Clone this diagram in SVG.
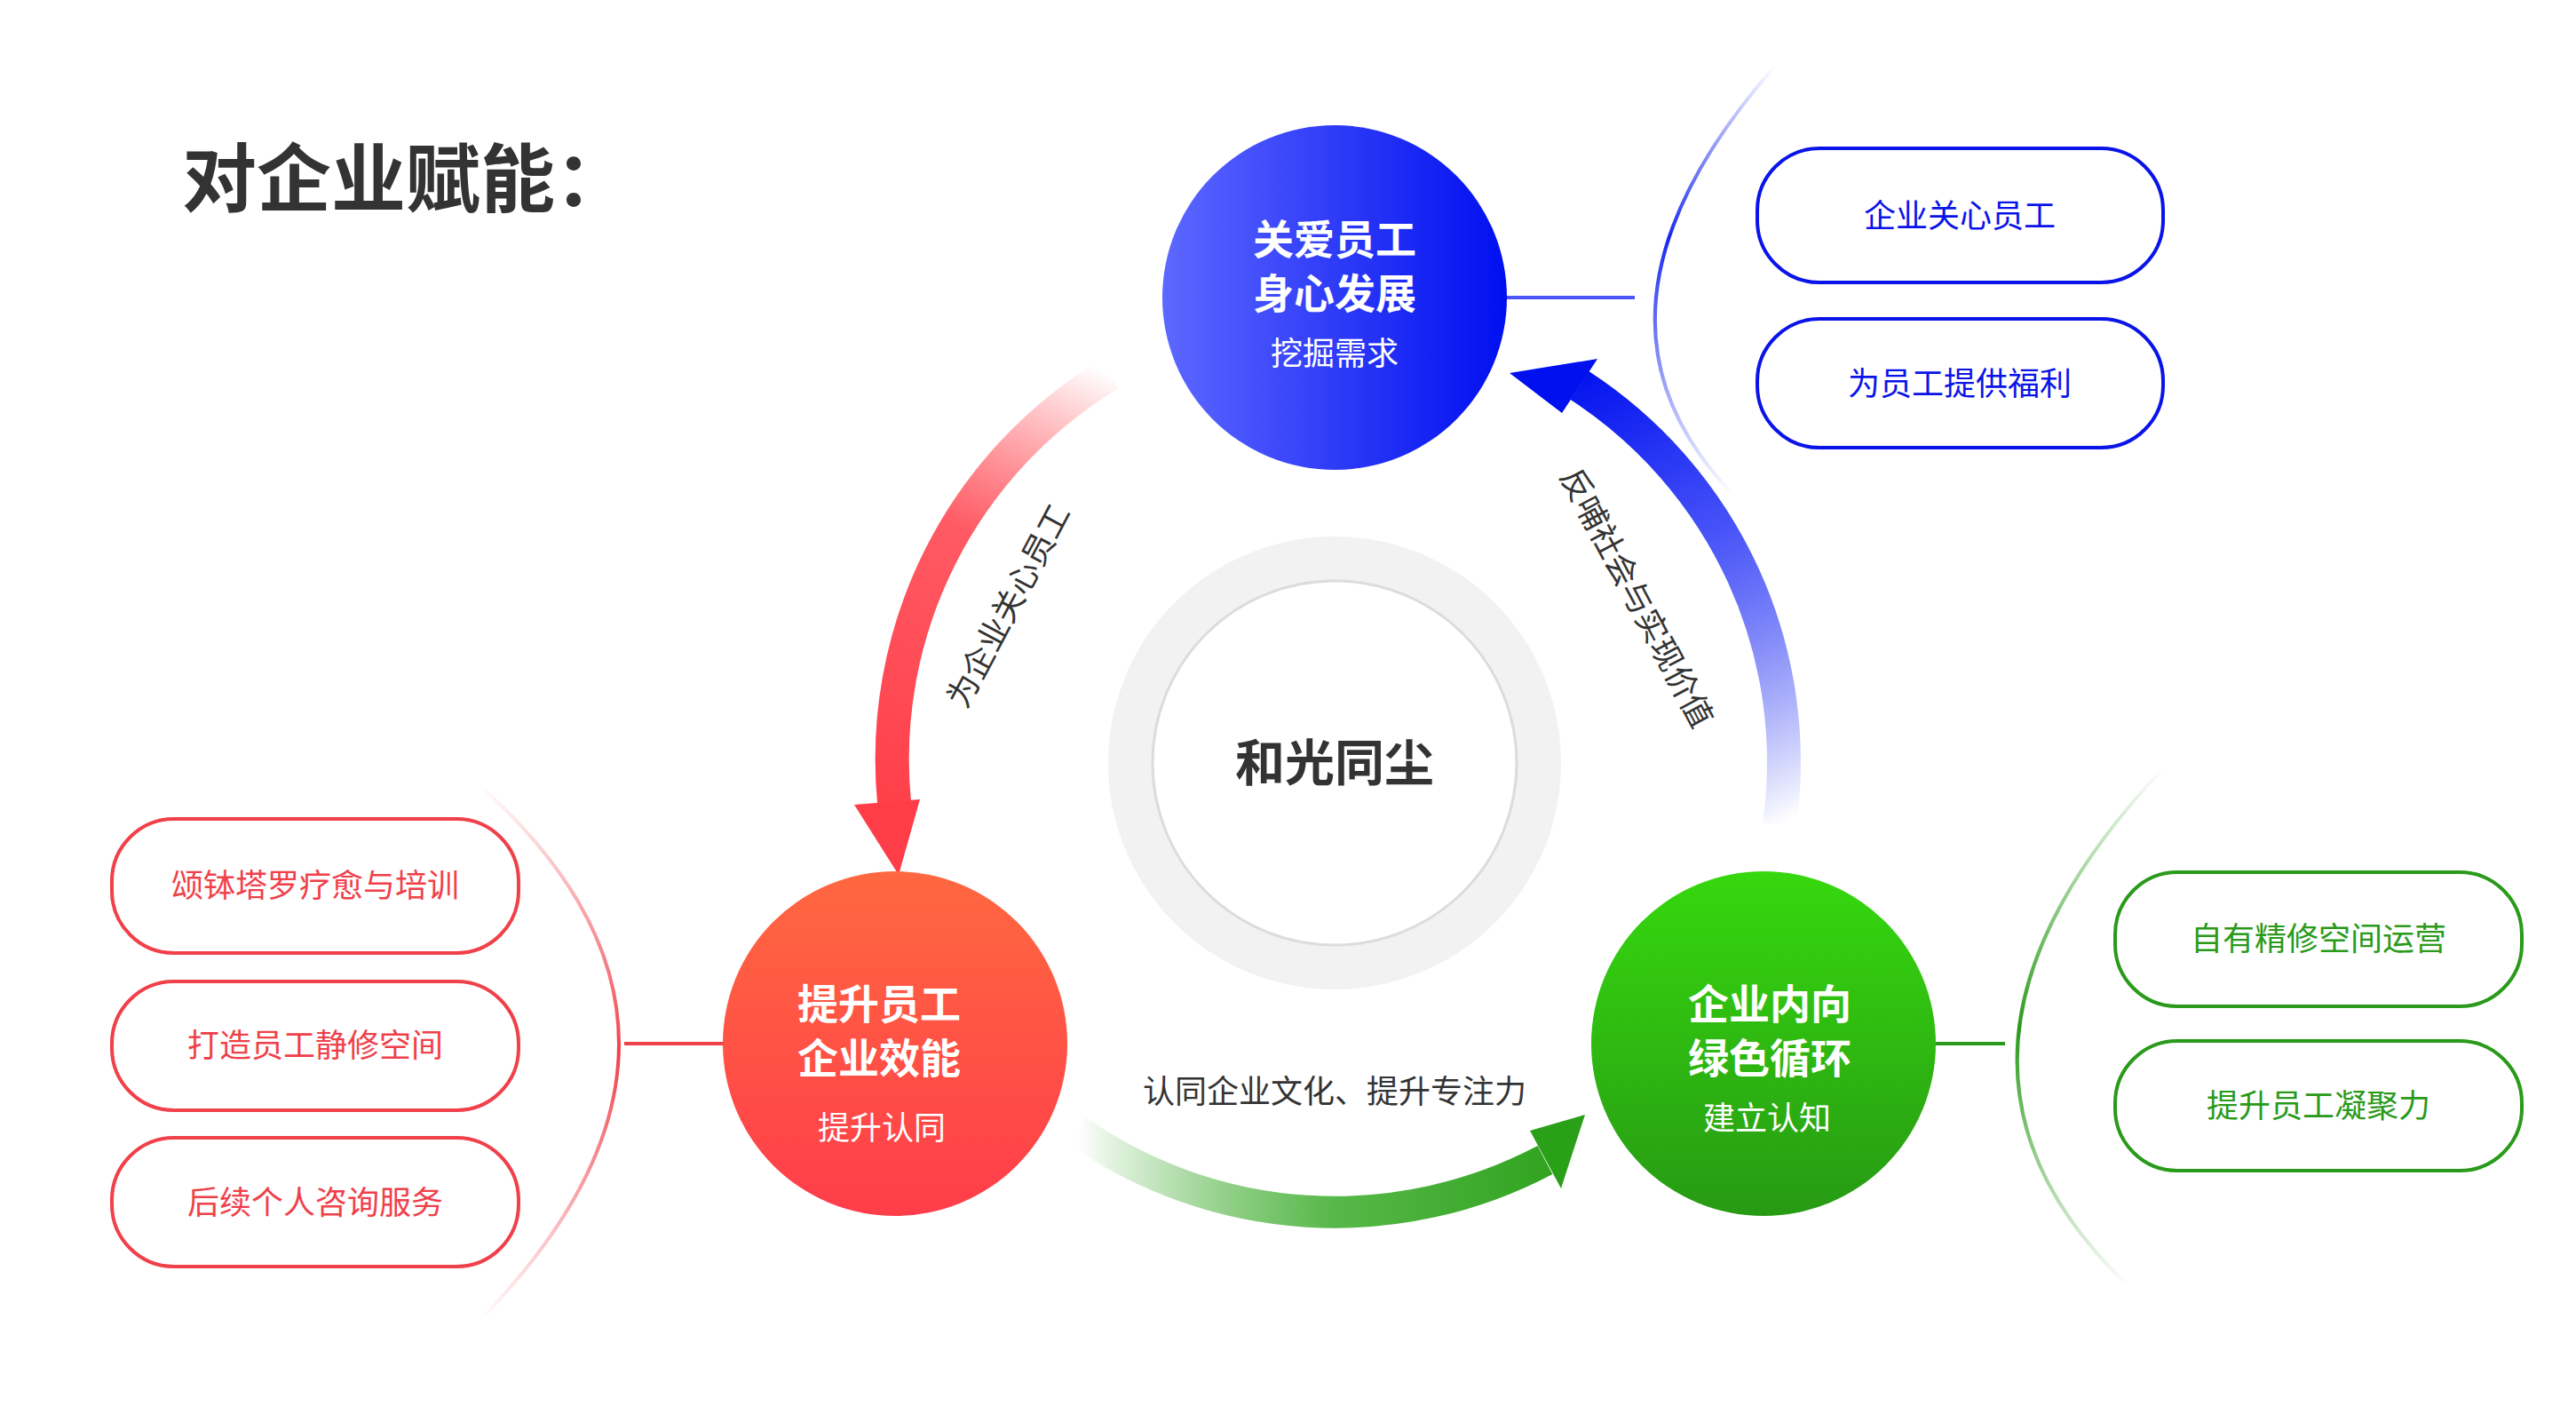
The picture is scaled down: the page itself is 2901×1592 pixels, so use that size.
<svg xmlns="http://www.w3.org/2000/svg" width="2901" height="1592" viewBox="0 0 2901 1592">
<defs>
<linearGradient id="gBlue" x1="0" y1="0" x2="1" y2="0"><stop offset="0" stop-color="#5d68ff"/><stop offset="1" stop-color="#000ff0"/></linearGradient>
<linearGradient id="gRed" x1="0" y1="0" x2="0" y2="1"><stop offset="0" stop-color="#ff6840"/><stop offset="1" stop-color="#ff3d4a"/></linearGradient>
<linearGradient id="gGreen" x1="0" y1="0" x2="0" y2="1"><stop offset="0" stop-color="#36d80e"/><stop offset="1" stop-color="#279a14"/></linearGradient>
<linearGradient id="aRed" gradientUnits="userSpaceOnUse" x1="1250" y1="421" x2="1010" y2="940"><stop offset="0" stop-color="#ff4048" stop-opacity="0"/><stop offset="0.4" stop-color="#ff5a64"/><stop offset="1" stop-color="#ff3d48"/></linearGradient>
<linearGradient id="aBlue" gradientUnits="userSpaceOnUse" x1="2004" y1="929" x2="1760" y2="420"><stop offset="0" stop-color="#0010ee" stop-opacity="0"/><stop offset="0.6" stop-color="#4450f8"/><stop offset="1" stop-color="#0010ee"/></linearGradient>
<linearGradient id="aGreen" gradientUnits="userSpaceOnUse" x1="1213" y1="1270" x2="1790" y2="1270"><stop offset="0" stop-color="#2aa018" stop-opacity="0"/><stop offset="0.5" stop-color="#58b84a"/><stop offset="1" stop-color="#2aa018"/></linearGradient>
<linearGradient id="sBlue" x1="0" y1="0" x2="0" y2="1"><stop offset="0" stop-color="#1a28f0" stop-opacity="0"/><stop offset="0.4" stop-color="#1a28f0"/><stop offset="1" stop-color="#1a28f0" stop-opacity="0"/></linearGradient>
<linearGradient id="sRed" x1="0" y1="0" x2="0" y2="1"><stop offset="0" stop-color="#f0404a" stop-opacity="0"/><stop offset="0.5" stop-color="#f0404a"/><stop offset="1" stop-color="#f0404a" stop-opacity="0"/></linearGradient>
<linearGradient id="sGreen" x1="0" y1="0" x2="0" y2="1"><stop offset="0" stop-color="#2a9a1a" stop-opacity="0"/><stop offset="0.5" stop-color="#2a9a1a"/><stop offset="1" stop-color="#2a9a1a" stop-opacity="0"/></linearGradient>
<style>
text{font-family:"Noto Sans CJK SC","Liberation Sans",sans-serif;text-anchor:middle}
.nt{font-size:46px;font-weight:bold;fill:#fff}
.ns{font-size:36px;fill:#fff}
.box{fill:#fff;stroke-width:4}
.bt{font-size:36px}
.lbl{font-size:36px;fill:#333}
</style>
</defs>
<text x="205" y="232" style="text-anchor:start;font-size:84px;font-weight:bold;fill:#333">对企业赋能：</text>

<g id="connectors">
<path d="M1250,421 A506,506 0 0 0 1007,903" fill="none" stroke="url(#aRed)" stroke-width="38"/>
<polygon points="1036,900 962,906 1012,985" fill="#ff3d48"/>
<path d="M2004,929 A506,506 0 0 0 1779,434" fill="none" stroke="url(#aBlue)" stroke-width="38"/>
<polygon points="1759,465 1799,404 1700,420" fill="#0010ee"/>
<path d="M1213,1273 A506,506 0 0 0 1740,1306" fill="none" stroke="url(#aGreen)" stroke-width="36"/>
<polygon points="1723,1273 1758,1338 1785,1255" fill="#2aa018"/>
<line x1="1696" y1="335" x2="1841" y2="335" stroke="#4a55ff" stroke-width="4"/>
<line x1="703" y1="1175" x2="815" y2="1175" stroke="#f0404a" stroke-width="4"/>
<line x1="2180" y1="1175" x2="2258" y2="1175" stroke="#2a9a1a" stroke-width="4"/>
<path d="M1999,74 Q1754,354 1953,558" fill="none" stroke="url(#sBlue)" stroke-width="4"/>
<path d="M539,883 Q855,1165 539,1488" fill="none" stroke="url(#sRed)" stroke-width="4"/>
<path d="M2436,865 Q2127,1193 2399,1450" fill="none" stroke="url(#sGreen)" stroke-width="4"/>
<text class="lbl" transform="translate(1147,688) rotate(-62)">为企业关心员工</text>
<text class="lbl" transform="translate(1832,679) rotate(62)">反哺社会与实现价值</text>
<text class="lbl" x="1503" y="1242">认同企业文化、提升专注力</text>
</g>

<g id="center">
<circle cx="1503" cy="859" r="230" fill="none" stroke="#f2f2f2" stroke-width="50"/>
<circle cx="1503" cy="859" r="205" fill="#fff" stroke="#dcdcdc" stroke-width="3"/>
<text x="1503" y="879" style="font-size:56px;font-weight:bold;fill:#333">和光同尘</text>
</g>

<g id="node-blue">
<circle cx="1503" cy="335" r="194" fill="url(#gBlue)"/>
<text class="nt" x="1503" y="286">关爱员工</text>
<text class="nt" x="1503" y="347">身心发展</text>
<text class="ns" x="1503" y="411">挖掘需求</text>
</g>
<g id="node-red">
<circle cx="1008" cy="1175" r="194" fill="url(#gRed)"/>
<text class="nt" x="990" y="1147">提升员工</text>
<text class="nt" x="990" y="1208">企业效能</text>
<text class="ns" x="993" y="1283">提升认同</text>
</g>
<g id="node-green">
<circle cx="1986" cy="1175" r="194" fill="url(#gGreen)"/>
<text class="nt" x="1993" y="1147">企业内向</text>
<text class="nt" x="1993" y="1208">绿色循环</text>
<text class="ns" x="1990" y="1272">建立认知</text>
</g>

<g id="box-b1"><rect class="box" x="1979" y="167" width="457" height="151" rx="70" stroke="#0a14e8"/><text class="bt" x="2207" y="256" fill="#0a14e8">企业关心员工</text></g>
<g id="box-b2"><rect class="box" x="1979" y="359" width="457" height="145" rx="70" stroke="#0a14e8"/><text class="bt" x="2207" y="445" fill="#0a14e8">为员工提供福利</text></g>
<g id="box-r1"><rect class="box" x="126" y="922" width="458" height="151" rx="70" stroke="#f0404a"/><text class="bt" x="355" y="1010" fill="#f0404a">颂钵塔罗疗愈与培训</text></g>
<g id="box-r2"><rect class="box" x="126" y="1105" width="458" height="145" rx="70" stroke="#f0404a"/><text class="bt" x="355" y="1190" fill="#f0404a">打造员工静修空间</text></g>
<g id="box-r3"><rect class="box" x="126" y="1281" width="458" height="145" rx="70" stroke="#f0404a"/><text class="bt" x="355" y="1367" fill="#f0404a">后续个人咨询服务</text></g>
<g id="box-g1"><rect class="box" x="2382" y="982" width="458" height="151" rx="70" stroke="#2a9a1a"/><text class="bt" x="2611" y="1070" fill="#2a9a1a">自有精修空间运营</text></g>
<g id="box-g2"><rect class="box" x="2382" y="1172" width="458" height="146" rx="70" stroke="#2a9a1a"/><text class="bt" x="2611" y="1258" fill="#2a9a1a">提升员工凝聚力</text></g>
</svg>
